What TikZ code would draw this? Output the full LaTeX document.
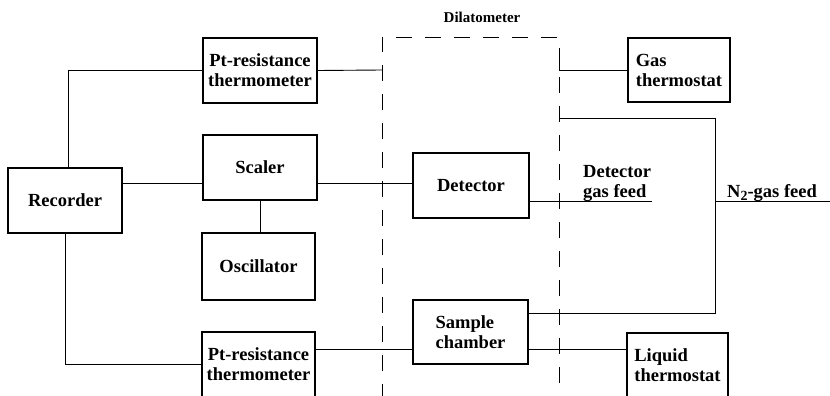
\documentclass[tikz,border=0pt]{standalone}
\usepackage{fontspec}
\setmainfont{Liberation Serif}
\begin{document}
\begin{tikzpicture}[x=1pt,y=-1pt,
  txt/.style={font=\bfseries\fontsize{18.5}{20}\selectfont},
  box/.style={txt, draw, line width=1.2pt, inner sep=0pt, align=center},
  lbox/.style={box, align=left},
  wire/.style={line width=0.9pt},
  dil/.style={line width=0.9pt, dash pattern=on 16pt off 13pt},
  lbl/.style={txt, inner sep=0pt, align=left}]
\useasboundingbox (0,0) rectangle (830,396);
% boxes
\node[box, minimum width=114pt, minimum height=65pt] (rec) at (65,200.5) {Recorder};
\node[box, minimum width=114pt, minimum height=65pt] (ptt) at (260,70.5) {Pt-resistance\\thermometer};
\node[box, minimum width=114pt, minimum height=65pt] (sca) at (260,167.5) {Scaler};
\node[box, minimum width=113pt, minimum height=67pt] (osc) at (258.5,266.5) {Oscillator};
\node[box, minimum width=113pt, minimum height=65pt] (ptb) at (258.5,364.5) {Pt-resistance\\thermometer};
\node[box, minimum width=116pt, minimum height=65pt] (det) at (471,185.5) {Detector};
\node[lbox, minimum width=115pt, minimum height=64pt] (sam) at (470.5,332) {Sample\\chamber};
\node[lbox, minimum width=102pt, minimum height=64pt] (gas) at (679,70) {Gas\\thermostat};
\node[lbox, minimum width=101pt, minimum height=65pt] (liq) at (677.5,365.5) {Liquid\\thermostat};
% dilatometer outline
\coordinate (dlb) at (382,400);
\coordinate (dlt) at (382,37);
\coordinate (drt) at (559,37);
\coordinate (drb) at (559,400);
\draw[dil] (dlb) -- (dlt) -- (drt) -- (drb);
\node[font=\bfseries\fontsize{15}{16}\selectfont, inner sep=0pt] (dil) at (482,17) {Dilatometer};
% coordinates
\coordinate (ptend) at (382,70);
\coordinate (gtop) at (559,53);
\coordinate (n2c) at (715,118);
\coordinate (n2e) at (559,118);
\coordinate (dge) at (652,201);
\coordinate (n2a) at (715,201);
\coordinate (n2b) at (830,201);
% wires
\draw[wire] ([xshift=3pt]rec.north) |- (ptt.west);
\draw[wire] (ptt.east) -- (ptend);
\draw[wire] ([yshift=17.5pt]rec.east) -- ([yshift=17.5pt]rec.east -| sca.west);
\draw[wire] ([yshift=-15.5pt]sca.east) -- ([yshift=-15.5pt]sca.east -| det.west);
\draw[wire] (sca.south) -- (sca.south |- osc.north);
\draw[wire] (rec.south) |- (ptb.west);
\draw[wire] ([yshift=15.5pt]ptb.east) -- ([yshift=15.5pt]ptb.east -| sam.west);
\draw[wire] ([yshift=-17pt]sam.east) -- ([yshift=-17pt]sam.east -| liq.west);
\draw[wire] ([yshift=19pt]sam.east) -| (n2c) -- (n2e);
\draw[wire] ([yshift=-15.5pt]det.east) -- (dge);
\draw[wire] (n2a) -- (n2b);
\draw[wire] (gtop) |- (gas.west);
% labels
\node[lbl, anchor=south west] (dgf) at (583,202) {Detector\\gas feed};
\node[lbl, anchor=base west] (n2f) at (727,197) {N\raisebox{-0.4ex}{\fontsize{14}{14}\selectfont 2}-gas feed};
\end{tikzpicture}
\end{document}
